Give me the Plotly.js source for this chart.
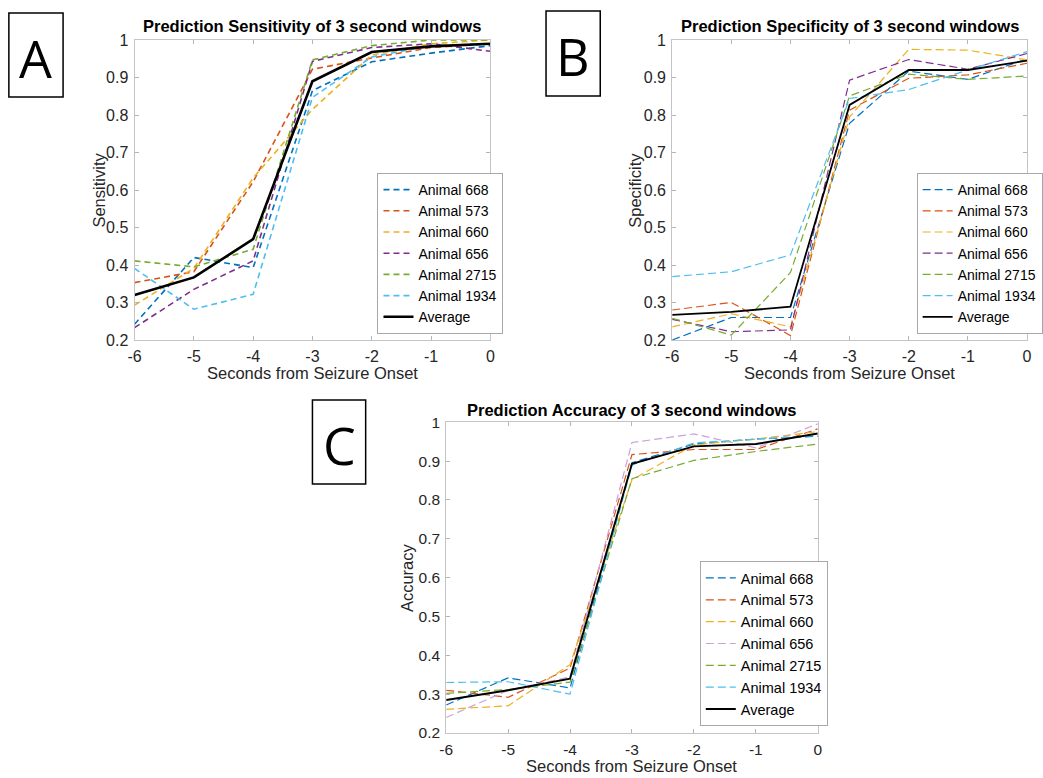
<!DOCTYPE html>
<html>
<head>
<meta charset="utf-8">
<script src="https://cdn.plot.ly/plotly-3.0.1.min.js"></script>
<style>
  html, body { margin: 0; padding: 0; background: #ffffff; }
  #chart { width: 1043px; height: 778px; }
</style>
</head>
<body>
<div id="chart"></div>
<script>
// ---------- data ----------
const seconds = [-6, -5, -4, -3, -2, -1, 0];
const xTickVals = [-6, -5, -4, -3, -2, -1, 0];
const xTickText = ['-6', '-5', '-4', '-3', '-2', '-1', '0'];
const yTickVals = [0.2, 0.3, 0.4, 0.5, 0.6, 0.7, 0.8, 0.9, 1];
const yTickText = ['0.2', '0.3', '0.4', '0.5', '0.6', '0.7', '0.8', '0.9', '1'];

const seriesNames = ['Animal 668', 'Animal 573', 'Animal 660', 'Animal 656', 'Animal 2715', 'Animal 1934'];
const averageName = 'Average';

// Panel A: sensitivity
const sens668  = [0.242, 0.420, 0.393, 0.865, 0.942, 0.965, 0.985];
const sens573  = [0.353, 0.382, 0.622, 0.922, 0.952, 0.980, 0.990];
const sens660  = [0.293, 0.391, 0.632, 0.815, 0.960, 0.990, 1.000];
const sens656  = [0.233, 0.335, 0.411, 0.943, 0.980, 0.990, 0.970];
const sens2715 = [0.411, 0.395, 0.442, 0.947, 0.985, 1.000, 1.000];
const sens1934 = [0.391, 0.282, 0.322, 0.847, 0.955, 0.985, 0.990];
const sensAvg  = [0.320, 0.367, 0.469, 0.890, 0.968, 0.983, 0.990];

// Panel B: specificity
const spec668  = [0.200, 0.260, 0.260, 0.778, 0.917, 0.895, 0.950];
const spec573  = [0.280, 0.300, 0.212, 0.813, 0.898, 0.907, 0.938];
const spec660  = [0.235, 0.270, 0.235, 0.795, 0.975, 0.973, 0.947];
const spec656  = [0.255, 0.222, 0.227, 0.893, 0.948, 0.922, 0.964];
const spec2715 = [0.258, 0.213, 0.380, 0.851, 0.909, 0.895, 0.904];
const spec1934 = [0.369, 0.382, 0.427, 0.844, 0.868, 0.920, 0.969];
const specAvg  = [0.267, 0.275, 0.289, 0.827, 0.920, 0.920, 0.945];

// Panel C: accuracy
const acc668  = [0.272, 0.342, 0.316, 0.896, 0.944, 0.957, 0.964];
const acc573  = [0.310, 0.292, 0.367, 0.917, 0.930, 0.930, 0.983];
const acc660  = [0.261, 0.270, 0.376, 0.852, 0.942, 0.957, 0.976];
const acc656  = [0.240, 0.310, 0.344, 0.948, 0.970, 0.934, 0.996];
const acc2715 = [0.302, 0.312, 0.331, 0.855, 0.902, 0.925, 0.944];
const acc1934 = [0.330, 0.332, 0.300, 0.890, 0.947, 0.957, 0.966];
const accAvg  = [0.285, 0.310, 0.340, 0.893, 0.938, 0.944, 0.971];

const panelTitles = [
  'Prediction Sensitivity of 3 second windows',
  'Prediction Specificity of 3 second windows',
  'Prediction Accuracy of 3 second windows'
];
const yTitles = ['Sensitivity', 'Specificity', 'Accuracy'];
const xTitle = 'Seconds from Seizure Onset';
const panelLetters = ['A', 'B', 'C'];

// ---------- styles ----------
const W = 1043, H = 778;
const FONT = '"Liberation Sans", Arial, Helvetica, sans-serif';
const colorsAB = ['#0072BD', '#D95319', '#EDB120', '#7E2F8E', '#77AC30', '#4DBEEE'];
const colorsC  = ['#0072BD', '#D95319', '#EDB120', '#C9A3DB', '#77AC30', '#4DBEEE'];

const px = x => x / W;
const py = y => 1 - y / H;

const panels = [
  { ax: '', data: [sens668, sens573, sens660, sens656, sens2715, sens1934], avg: sensAvg,
    box: [136.5, 497.5, 40, 340], colors: colorsAB, lw: 1.6, dash: '6px,4px', avgW: 2.6,
    legend: 'legend', tickSize: 16, labelSize: 16.5,
    title: [317, 26], xt: [317, 373, 'middle'], yt: [100, 190] },
  { ax: '2', data: [spec668, spec573, spec660, spec656, spec2715, spec1934], avg: specAvg,
    box: [682, 1042, 40, 340], colors: colorsAB, lw: 1.2, dash: '8px,4px', avgW: 1.8,
    legend: 'legend2', tickSize: 16, labelSize: 16.5,
    title: [862, 26], xt: [862, 373, 'middle'], yt: [644, 190] },
  { ax: '3', data: [acc668, acc573, acc660, acc656, acc2715, acc1934], avg: accAvg,
    box: [452.7, 829.7, 422.3, 733], colors: colorsC, lw: 1.2, dash: '8px,4px', avgW: 1.9,
    legend: 'legend3', tickSize: 15.5, labelSize: 16.5,
    title: [641, 410], xt: [641, 777, 'bottom'], yt: [413, 578] }
];

const traces = [];
panels.forEach(p => {
  p.data.forEach((vals, i) => {
    traces.push({
      x: seconds, y: vals, name: seriesNames[i], type: 'scatter', mode: 'lines',
      xaxis: 'x' + p.ax, yaxis: 'y' + p.ax, legend: p.legend,
      line: { color: p.colors[i], width: p.lw, dash: p.dash }
    });
  });
  traces.push({
    x: seconds, y: p.avg, name: averageName, type: 'scatter', mode: 'lines',
    xaxis: 'x' + p.ax, yaxis: 'y' + p.ax, legend: p.legend,
    line: { color: '#000000', width: p.avgW }
  });
});

function axisX(p) {
  return {
    domain: [px(p.box[0]), px(p.box[1])],
    range: [-6, 0], anchor: 'y' + p.ax,
    tickvals: xTickVals, ticktext: xTickText,
    ticks: 'inside', ticklen: 4, tickcolor: '#b5b5b5', tickwidth: 1,
    showline: true, linecolor: '#c4c4c4', linewidth: 1, mirror: 'ticks',
    showgrid: false, zeroline: false,
    tickfont: { family: FONT, size: p.tickSize, color: '#262626' },
    ticklabelstandoff: 2,
    fixedrange: true
  };
}
function axisY(p) {
  return {
    domain: [py(p.box[3]), py(p.box[2])],
    range: [0.2, 1], anchor: 'x' + p.ax,
    tickvals: yTickVals, ticktext: yTickText,
    ticks: 'inside', ticklen: 4, tickcolor: '#b5b5b5', tickwidth: 1,
    showline: true, linecolor: '#c4c4c4', linewidth: 1, mirror: 'ticks',
    showgrid: false, zeroline: false,
    tickfont: { family: FONT, size: p.tickSize, color: '#262626' },
    ticklabelstandoff: 2,
    fixedrange: true
  };
}

function legendAt(xLeft, yBottom, size) {
  return {
    x: px(xLeft), y: py(yBottom), xanchor: 'left', yanchor: 'bottom',
    bgcolor: '#ffffff', bordercolor: '#a8a8a8', borderwidth: 1,
    font: { family: FONT, size: size, color: '#000000' },
    itemwidth: 30, tracegroupgap: 0
  };
}

const annotations = [];
panels.forEach((p, i) => {
  annotations.push({
    text: '<b>' + panelTitles[i] + '</b>', xref: 'paper', yref: 'paper',
    x: px(p.title[0]), y: py(p.title[1]),
    xanchor: 'center', yanchor: 'middle', showarrow: false,
    font: { family: FONT, size: p.labelSize, color: '#000000' }
  });
  annotations.push({
    text: xTitle, xref: 'paper', yref: 'paper',
    x: px(p.xt[0]), y: py(p.xt[1]),
    xanchor: 'center', yanchor: p.xt[2], showarrow: false,
    font: { family: FONT, size: p.labelSize, color: '#262626' }
  });
  annotations.push({
    text: yTitles[i], xref: 'paper', yref: 'paper',
    x: px(p.yt[0]), y: py(p.yt[1]), textangle: -90,
    xanchor: 'center', yanchor: 'middle', showarrow: false,
    font: { family: FONT, size: p.labelSize, color: '#262626' }
  });
});

const letterBoxes = [[9, 64, 13, 97], [554, 609, 11, 96], [317, 371, 400, 484]];
const shapes = letterBoxes.map(b => ({
  type: 'rect', xref: 'paper', yref: 'paper',
  x0: px(b[0]), x1: px(b[1]), y0: py(b[3]), y1: py(b[2]),
  line: { color: '#000000', width: 1.5 }, fillcolor: 'rgba(0,0,0,0)'
}));
letterBoxes.forEach((b, i) => {
  annotations.push({
    text: panelLetters[i], xref: 'paper', yref: 'paper',
    x: px((b[0] + b[1]) / 2), y: py((b[2] + b[3]) / 2 + 2),
    xanchor: 'center', yanchor: 'middle', showarrow: false,
    font: { family: '"Open Sans", "Noto Sans", sans-serif', size: 52, color: '#000000' }
  });
});

const layout = {
  width: W, height: H,
  margin: { l: 0, r: 0, t: 0, b: 0 },
  paper_bgcolor: '#ffffff', plot_bgcolor: '#ffffff',
  showlegend: true,
  xaxis: axisX(panels[0]), yaxis: axisY(panels[0]),
  xaxis2: axisX(panels[1]), yaxis2: axisY(panels[1]),
  xaxis3: axisX(panels[2]), yaxis3: axisY(panels[2]),
  legend: legendAt(383, 334, 14),
  legend2: legendAt(930, 334, 14),
  legend3: legendAt(710, 726, 14.5),
  annotations: annotations,
  shapes: shapes
};

Plotly.newPlot('chart', traces, layout, { displayModeBar: false, staticPlot: true });
</script>
</body>
</html>
